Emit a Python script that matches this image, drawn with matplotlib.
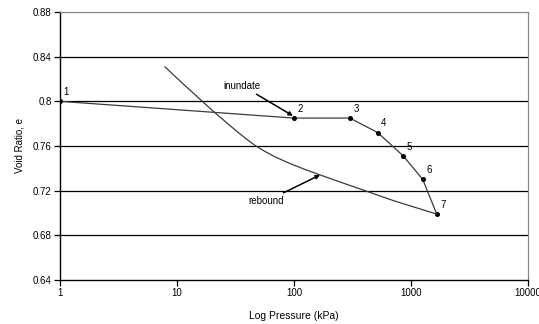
import matplotlib.pyplot as plt

# loading path (points 1-7)
load_pressure = [1, 100, 300, 520, 860, 1260, 1660]
load_void = [0.800, 0.785, 0.785, 0.772, 0.751, 0.730, 0.699]
point_labels = ["1", "2", "3", "4", "5", "6", "7"]

# rebound curve from point 7 back to low pressure
rebound_pressure = [1660, 702, 404, 247, 167, 124, 92.4, 68.8, 56.5, 46.4, 42.1,
                    34.5, 25.7, 21.1, 16.7, 11.7, 7.9]
rebound_void = [0.699, 0.7112, 0.7200, 0.7278, 0.7341, 0.7390, 0.7443, 0.7503,
                0.7551, 0.7606, 0.7638, 0.7708, 0.7821, 0.7898, 0.7994, 0.8141,
                0.8308]

y_ticks = [0.64, 0.68, 0.72, 0.76, 0.8, 0.84, 0.88]
y_tick_labels = ["0.64", "0.68", "0.72", "0.76", "0.8", "0.84", "0.88"]
x_ticks = [1, 10, 100, 1000, 10000]
x_tick_labels = ["1", "10", "100", "1000", "10000"]

plt.rcParams["font.family"] = ["Liberation Sans", "DejaVu Sans"]

fig = plt.figure(figsize=(5.39, 3.24), dpi=100)
ax = fig.add_axes([0.1113, 0.1358, 0.8683, 0.8272])

ax.set_xscale("log")
ax.set_xlim(1, 10000)
ax.set_ylim(0.64, 0.88)

for y in y_ticks[1:-1]:
    ax.axhline(y, color="black", lw=0.9, zorder=1)

line_color = "#3a3a3a"
ax.plot(load_pressure, load_void, color=line_color, lw=0.9, marker="o",
        markersize=2.6, markerfacecolor="black", markeredgecolor="black", zorder=3)
ax.plot(rebound_pressure, rebound_void, color=line_color, lw=0.9, zorder=3)

for p, e, lab in zip(load_pressure, load_void, point_labels):
    ax.annotate(lab, (p, e), xytext=(2.5, 3), textcoords="offset points",
                fontsize=7, color="black", ha="left", va="bottom")

arrow = dict(arrowstyle="-|>", color="black", lw=1.1, mutation_scale=6,
             shrinkA=1, shrinkB=0)
ax.annotate("inundate", xy=(load_pressure[1] * 0.98, load_void[1] + 0.002),
            xytext=(36, 0.814), textcoords="data", fontsize=7,
            ha="center", va="center", arrowprops=arrow)
ax.annotate("rebound", xy=(rebound_pressure[4], rebound_void[4]),
            xytext=(58, 0.7105), textcoords="data", fontsize=7,
            ha="center", va="center", arrowprops=arrow)

ax.set_yticks(y_ticks)
ax.set_yticklabels(y_tick_labels)
ax.set_xticks(x_ticks)
ax.set_xticklabels(x_tick_labels)
ax.minorticks_off()
ax.tick_params(axis="both", labelsize=7, length=4, width=0.9, direction="out", pad=2)

ax.spines["left"].set_linewidth(1.0)
ax.spines["bottom"].set_linewidth(1.0)
ax.spines["top"].set_color("#888888")
ax.spines["right"].set_color("#888888")
ax.spines["top"].set_linewidth(0.9)
ax.spines["right"].set_linewidth(0.9)

ax.set_ylabel("Void Ratio, e", fontsize=7, labelpad=6)
ax.set_xlabel("Log Pressure (kPa)", fontsize=7.5, labelpad=9)

fig.savefig("out.png", dpi=100)
